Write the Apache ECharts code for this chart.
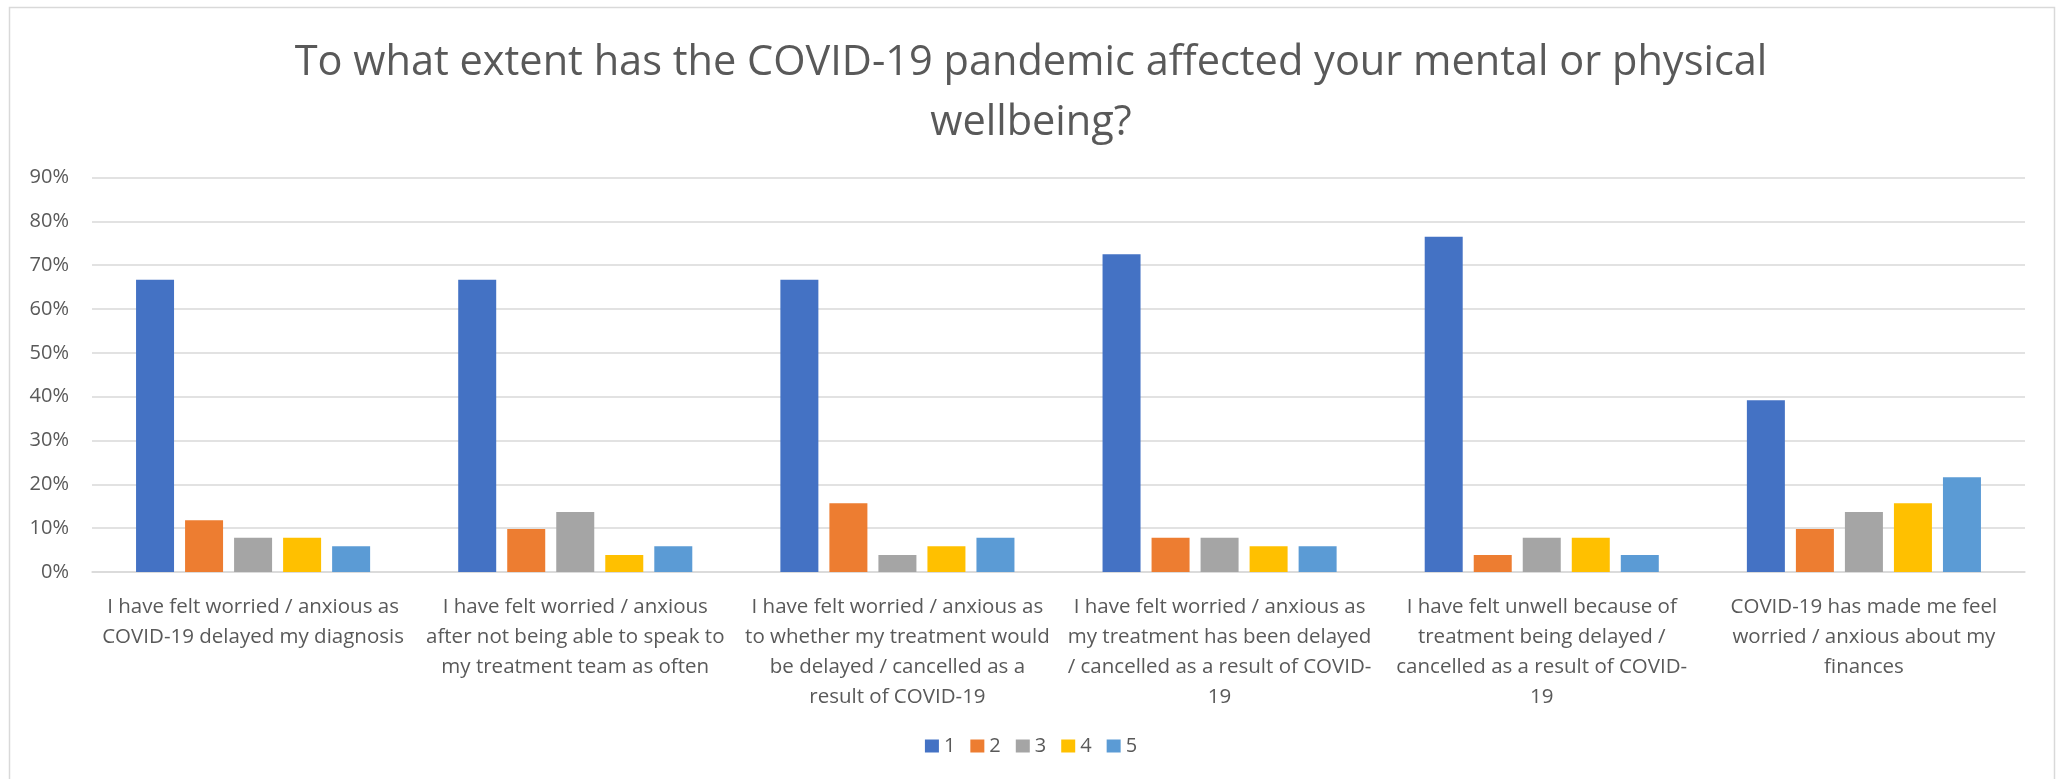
<!DOCTYPE html>
<html>
<head>
<meta charset="utf-8">
<script src="https://cdn.jsdelivr.net/npm/echarts@6/dist/echarts.min.js"></script>
<style>
  html, body { margin: 0; padding: 0; background: #ffffff; }
  #chart { width: 2062px; height: 779px; }
</style>
</head>
<body>
<div id="chart"></div>
<script>
// Survey statements (wrapped as they appear under the axis)
const categories = [
  "I have felt worried / anxious as\nCOVID-19 delayed my diagnosis",
  "I have felt worried / anxious\nafter not being able to speak to\nmy treatment team as often",
  "I have felt worried / anxious as\nto whether my treatment would\nbe delayed / cancelled as a\nresult of COVID-19",
  "I have felt worried / anxious as\nmy treatment has been delayed\n/ cancelled as a result of COVID-\n19",
  "I have felt unwell because of\ntreatment being delayed /\ncancelled as a result of COVID-\n19",
  "COVID-19 has made me feel\nworried / anxious about my\nfinances"
];

// Share of respondents (%) choosing each rating 1..5
const seriesNames = ["1", "2", "3", "4", "5"];
const rating1 = [66.7, 66.7, 66.7, 72.5, 76.5, 39.2];
const rating2 = [11.8, 9.8, 15.7, 7.8, 3.9, 9.8];
const rating3 = [7.8, 13.7, 3.9, 7.8, 7.8, 13.7];
const rating4 = [7.8, 3.9, 5.9, 5.9, 7.8, 15.7];
const rating5 = [5.9, 5.9, 7.8, 5.9, 3.9, 21.6];

const ratingValues = [rating1, rating2, rating3, rating4, rating5];
const palette = ["#4472C4", "#ED7D31", "#A5A5A5", "#FFC000", "#5B9BD5"];

const chart = echarts.init(document.getElementById("chart"), null, { renderer: "canvas" });

const textColor = "#595959";
const gridColor = "#d9d9d9";
const font = "'Open Sans', 'Noto Sans', sans-serif";

chart.setOption({
  backgroundColor: "#ffffff",
  color: palette,
  animation: false,
  title: {
    text: "To what extent has the COVID-19 pandemic affected your mental or physical\nwellbeing?",
    left: "center",
    top: 28,
    textStyle: {
      fontFamily: font,
      fontSize: 41.5,
      fontWeight: "normal",
      color: textColor,
      lineHeight: 60
    }
  },
  graphic: [{
    type: "rect",
    shape: { x: 9.5, y: 7.5, width: 2045, height: 800 },
    style: { fill: "none", stroke: gridColor, lineWidth: 1.5 },
    silent: true,
    z: -1
  }],
  legend: {
    data: seriesNames,
    bottom: 18,
    left: "center",
    icon: "rect",
    itemWidth: 14,
    itemHeight: 13,
    itemGap: 15,
    textStyle: { fontFamily: font, fontSize: 20, color: textColor }
  },
  grid: {
    left: 92,
    right: 37,
    top: 177.5,
    bottom: 207,
    containLabel: false
  },
  xAxis: {
    type: "category",
    data: categories,
    axisLine: { lineStyle: { color: gridColor, width: 1.5 } },
    axisTick: { show: false },
    axisLabel: {
      interval: 0,
      margin: 20,
      fontFamily: font,
      fontSize: 20.5,
      lineHeight: 30,
      color: textColor,
      align: "center",
      verticalAlign: "top"
    }
  },
  yAxis: {
    type: "value",
    min: 0,
    max: 90,
    interval: 10,
    axisLine: { show: false },
    axisTick: { show: false },
    splitLine: { lineStyle: { color: gridColor, width: 1.5 } },
    axisLabel: {
      formatter: "{value}%",
      margin: 23,
      fontFamily: font,
      fontSize: 20,
      color: textColor
    }
  },
  series: seriesNames.map((name, i) => ({
    name: name,
    type: "bar",
    data: ratingValues[i],
    barWidth: 38,
    barGap: "29%",
    itemStyle: { color: palette[i] }
  }))
});
</script>
</body>
</html>
